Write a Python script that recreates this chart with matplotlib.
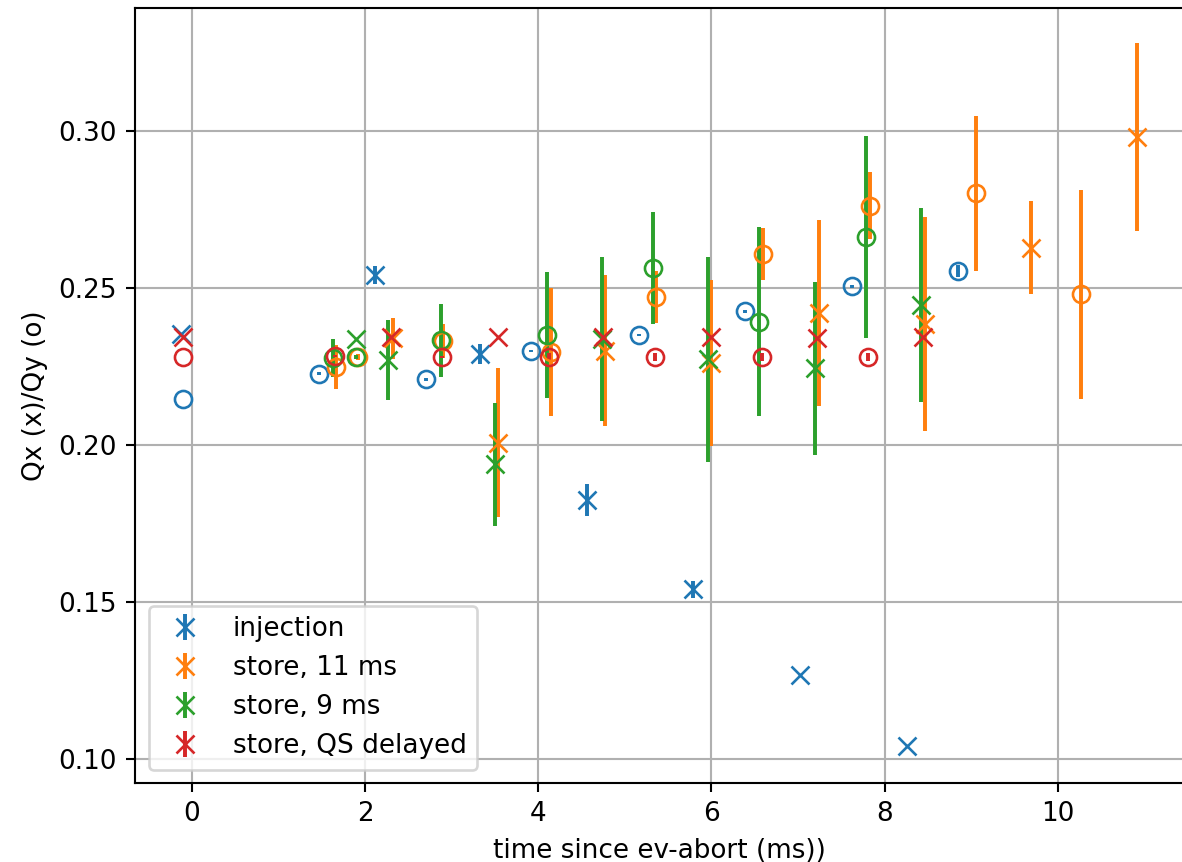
"""Tune evolution after the ev-abort for injection and store settings.

Qx is drawn with 'x' markers and Qy with open circles, one colour per setting.
"""

import matplotlib

matplotlib.use("Agg")
import matplotlib.pyplot as plt

# injection
inj_qx_t = [-0.12, 2.11, 3.33, 4.56, 5.79, 7.02, 8.26]
inj_qx = [0.2352, 0.2542, 0.2291, 0.1826, 0.1542, 0.1270, 0.1042]
inj_qx_err = [0.0, 0.0029, 0.0032, 0.0050, 0.0027, 0.0, 0.0]
inj_qy_t = [-0.10, 1.47, 2.70, 3.92, 5.16, 6.39, 7.62, 8.85]
inj_qy = [0.2148, 0.2227, 0.2209, 0.2299, 0.2350, 0.2425, 0.2505, 0.2554]
inj_qy_err = [0.0, 0.0004, 0.0004, 0.0004, 0.0004, 0.0004, 0.0004, 0.0020]

# store, 11 ms
s11_qx_t = [2.32, 3.54, 4.77, 6.00, 7.24, 8.46, 9.69, 10.91]
s11_qx = [0.2340, 0.2008, 0.2300, 0.2260, 0.2421, 0.2384, 0.2628, 0.2980]
s11_qx_err = [0.0065, 0.0238, 0.0240, 0.0264, 0.0296, 0.0340, 0.0149, 0.0299]
s11_qy_t = [1.67, 1.92, 2.90, 4.15, 5.36, 6.60, 7.83, 9.05, 10.27]
s11_qy = [0.2248, 0.2280, 0.2331, 0.2295, 0.2471, 0.2607, 0.2762, 0.2801, 0.2479]
s11_qy_err = [0.0069, 0.0010, 0.0055, 0.0204, 0.0082, 0.0082, 0.0106, 0.0247, 0.0333]

# store, 9 ms
s9_qx_t = [1.90, 2.27, 3.50, 4.74, 5.96, 7.19, 8.42]
s9_qx = [0.2339, 0.2271, 0.1939, 0.2337, 0.2273, 0.2244, 0.2446]
s9_qx_err = [0.0, 0.0126, 0.0196, 0.0260, 0.0326, 0.0275, 0.0308]
s9_qy_t = [1.63, 1.90, 2.88, 4.10, 5.32, 6.55, 7.79]
s9_qy = [0.2277, 0.2280, 0.2333, 0.2350, 0.2564, 0.2393, 0.2662]
s9_qy_err = [0.0062, 0.0005, 0.0116, 0.0199, 0.0178, 0.0301, 0.0321]

# store, QS delayed
qs_qx_t = [-0.10, 2.30, 3.53, 4.75, 5.99, 7.22, 8.44]
qs_qx = [0.2344, 0.2344, 0.2344, 0.2344, 0.2344, 0.2341, 0.2344]
qs_qx_err = [0.0, 0.0, 0.0, 0.0, 0.0, 0.0, 0.0]
qs_qy_t = [-0.10, 1.65, 2.89, 4.12, 5.35, 6.58, 7.81]
qs_qy = [0.2280, 0.2282, 0.2280, 0.2281, 0.2281, 0.2281, 0.2281]
qs_qy_err = [0.0, 0.0003, 0.0003, 0.0013, 0.0013, 0.0013, 0.0013]

labels = ["injection", "store, 11 ms", "store, 9 ms", "store, QS delayed"]


def main() -> None:
    dpi = 189
    fig = plt.figure(figsize=(1182 / dpi, 862 / dpi), dpi=dpi)
    ax = fig.add_axes([0.1146, 0.0916, 0.8874, 0.899])

    series = [
        (inj_qx_t, inj_qx, inj_qx_err, inj_qy_t, inj_qy, inj_qy_err),
        (s11_qx_t, s11_qx, s11_qx_err, s11_qy_t, s11_qy, s11_qy_err),
        (s9_qx_t, s9_qx, s9_qx_err, s9_qy_t, s9_qy, s9_qy_err),
        (qs_qx_t, qs_qx, qs_qx_err, qs_qy_t, qs_qy, qs_qy_err),
    ]
    for i, (tx, qx, ex, ty, qy, ey) in enumerate(series):
        color = f"C{i}"
        ax.errorbar(tx, qx, yerr=ex, fmt="x", color=color, ms=6.5,
                    label=labels[i])
        ax.errorbar(ty, qy, yerr=ey, fmt="o", color=color, ms=6.5, mfc="none")

    ax.set_xlim(-0.65, 11.46)
    ax.set_ylim(0.0925, 0.339)
    ax.grid(True)
    ax.set_xlabel("time since ev-abort (ms))")
    ax.set_ylabel("Qx (x)/Qy (o)")
    ax.legend(loc="lower left")

    fig.savefig("out.png", dpi=dpi)
    plt.close(fig)


if __name__ == "__main__":
    main()
